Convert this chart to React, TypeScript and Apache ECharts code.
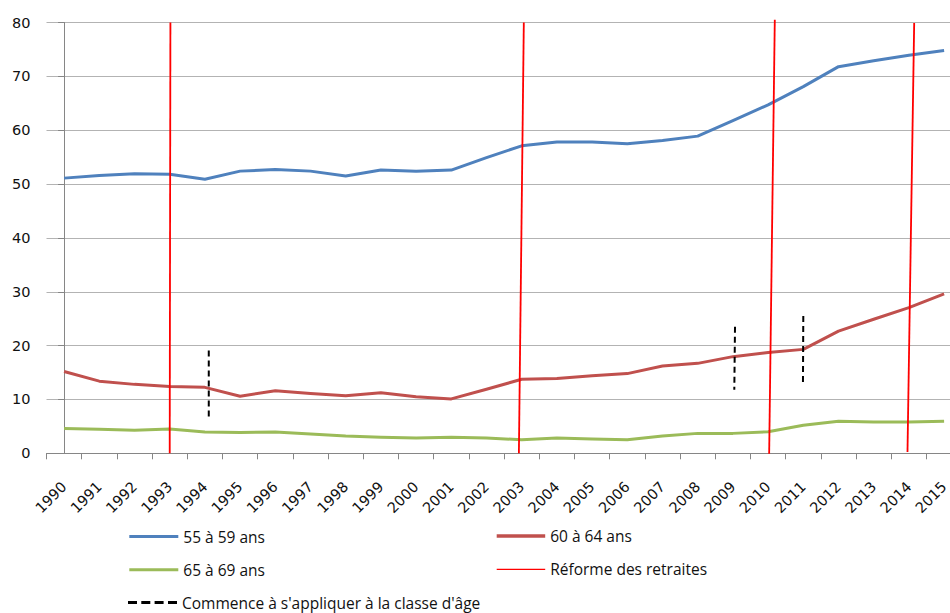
import React, { useEffect, useRef } from "react";
import * as echarts from "echarts";

// Years on the category axis
const years = [
  "1990", "1991", "1992", "1993", "1994", "1995", "1996", "1997", "1998",
  "1999", "2000", "2001", "2002", "2003", "2004", "2005", "2006", "2007",
  "2008", "2009", "2010", "2011", "2012", "2013", "2014", "2015",
];

// Employment rate (%) by age group
const age55to59 = [
  51.1, 51.6, 51.9, 51.8, 50.9, 52.4, 52.7, 52.4, 51.5, 52.6, 52.4, 52.6, 54.9,
  57.1, 57.8, 57.8, 57.5, 58.1, 58.9, 61.8, 64.7, 68.1, 71.8, 72.9, 73.9, 74.8,
];
const age60to64 = [
  15.2, 13.4, 12.8, 12.4, 12.25, 10.6, 11.6, 11.1, 10.7, 11.25, 10.5, 10.1, 11.9,
  13.75, 13.9, 14.4, 14.8, 16.2, 16.7, 17.95, 18.7, 19.3, 22.7, 24.9, 27.05, 29.6,
];
const age65to69 = [
  4.6, 4.45, 4.3, 4.5, 3.95, 3.85, 3.95, 3.6, 3.2, 3.0, 2.85, 3.0, 2.85, 2.5,
  2.85, 2.65, 2.5, 3.2, 3.7, 3.7, 4.0, 5.2, 5.95, 5.8, 5.8, 5.95,
];

// Pension reforms: hand-drawn strokes, [year index, value] at top and bottom
const reformLines: number[][][] = [
  [[3.02, 80], [3.0, 0]],
  [[13.06, 80], [12.92, 0]],
  [[20.19, 80.5], [20.03, -0.1]],
  [[24.15, 79.9], [23.96, 0.25]],
];

// First application to the age group: dashed markers [year index, value]
const startLines: number[][][] = [
  [[4.11, 19.1], [4.11, 6.1]],
  [[19.06, 23.5], [19.04, 11.8]],
  [[21.0, 25.5], [20.99, 12.7]],
];

const BLUE = "#4F81BD";
const RED = "#C0504D";
const GREEN = "#9BBB59";
const REFORM = "#FF0000";

const NAME_55 = "55 à 59 ans";
const NAME_60 = "60 à 64 ans";
const NAME_65 = "65 à 69 ans";
const NAME_REFORM = "Réforme des retraites";
const NAME_START = "Commence à s'appliquer à la classe d'âge";

const AXIS_FONT = "DejaVu Sans";
const LEGEND_FONT = "Open Sans";

export default function App() {
  const ref = useRef<HTMLDivElement>(null);

  useEffect(() => {
    if (!ref.current) return;
    const chart = echarts.init(ref.current, undefined, { renderer: "svg" });

    const legendText = {
      fontFamily: LEGEND_FONT,
      fontSize: 15.5,
      color: "#111",
      lineHeight: 16,
    };
    const dashIcon =
      "path://M0,0h9v3h-9z M13.3,0h9v3h-9z M26.6,0h9v3h-9z M40,0h9v3h-9z";

    const mkLegend = (
      name: string,
      left: number,
      centerY: number,
      icon: string,
      itemWidth: number,
      itemHeight: number
    ) => ({
      data: [name],
      left,
      top: centerY - 8,
      icon,
      itemWidth,
      itemHeight,
      itemGap: 0,
      padding: 0,
      textStyle: legendText,
      selectedMode: false,
    });

    const option: echarts.EChartsOption = {
      animation: false,
      backgroundColor: "#fff",
      grid: {
        left: 46.5,
        top: 22.5,
        right: 0.3,
        bottom: 159.7,
        containLabel: false,
      },
      xAxis: [
        {
          type: "category",
          data: years,
          boundaryGap: true,
          axisLine: { show: true, lineStyle: { color: "#868686", width: 1 } },
          axisTick: {
            show: true,
            interval: 0,
            length: 6,
            lineStyle: { color: "#868686" },
          },
          axisLabel: {
            interval: 0,
            rotate: 45,
            margin: 31,
            fontFamily: AXIS_FONT,
            fontSize: 14.5,
            color: "#111",
          },
          splitLine: { show: false },
        },
        {
          type: "value",
          min: -0.5,
          max: 25.5,
          show: false,
        },
      ],
      yAxis: {
        type: "value",
        min: 0,
        max: 80,
        interval: 10,
        axisLine: { show: true, lineStyle: { color: "#868686", width: 1 } },
        axisTick: { show: true, length: 6, lineStyle: { color: "#868686" } },
        axisLabel: {
          margin: 16,
          fontFamily: AXIS_FONT,
          fontSize: 14.5,
          color: "#111",
        },
        splitLine: { show: true, lineStyle: { color: "#B3B3B3", width: 1 } },
      },
      legend: [
        mkLegend(NAME_55, 129.3, 536.5, "rect", 49, 3),
        mkLegend(NAME_60, 496.7, 536, "rect", 48.5, 3.5),
        mkLegend(NAME_65, 129.3, 569.8, "rect", 49, 3),
        mkLegend(NAME_REFORM, 496.7, 569.3, "rect", 48.5, 1.2),
        mkLegend(NAME_START, 128, 602.6, dashIcon, 49, 3),
      ],
      series: [
        {
          name: NAME_55,
          type: "line",
          data: age55to59,
          symbol: "none",
          color: BLUE,
          lineStyle: { color: BLUE, width: 3, join: "round" },
          z: 3,
        },
        {
          name: NAME_60,
          type: "line",
          data: age60to64,
          symbol: "none",
          color: RED,
          lineStyle: { color: RED, width: 3, join: "round" },
          z: 3,
        },
        {
          name: NAME_65,
          type: "line",
          data: age65to69,
          symbol: "none",
          color: GREEN,
          lineStyle: { color: GREEN, width: 3, join: "round" },
          z: 3,
        },
        ...reformLines.map((seg) => ({
          name: NAME_REFORM,
          type: "line" as const,
          xAxisIndex: 1,
          data: seg,
          symbol: "none",
          clip: false,
          color: REFORM,
          lineStyle: { color: REFORM, width: 1.8 },
          z: 4,
        })),
        ...startLines.map((seg) => ({
          name: NAME_START,
          type: "line" as const,
          xAxisIndex: 1,
          data: seg,
          symbol: "none",
          clip: false,
          color: "#000",
          lineStyle: { color: "#000", width: 2, type: [6, 4] as number[] },
          z: 5,
        })),
      ],
    };

    chart.setOption(option);
    return () => chart.dispose();
  }, []);

  // The plot runs slightly past the right edge of the frame, so the chart
  // canvas is wider than the visible window and clipped by it.
  return (
    <div
      style={{
        position: "absolute",
        left: 0,
        top: 0,
        width: 950,
        height: 613,
        overflow: "hidden",
        background: "#fff",
      }}
    >
      <div ref={ref} style={{ width: 962, height: 613 }} />
    </div>
  );
}
